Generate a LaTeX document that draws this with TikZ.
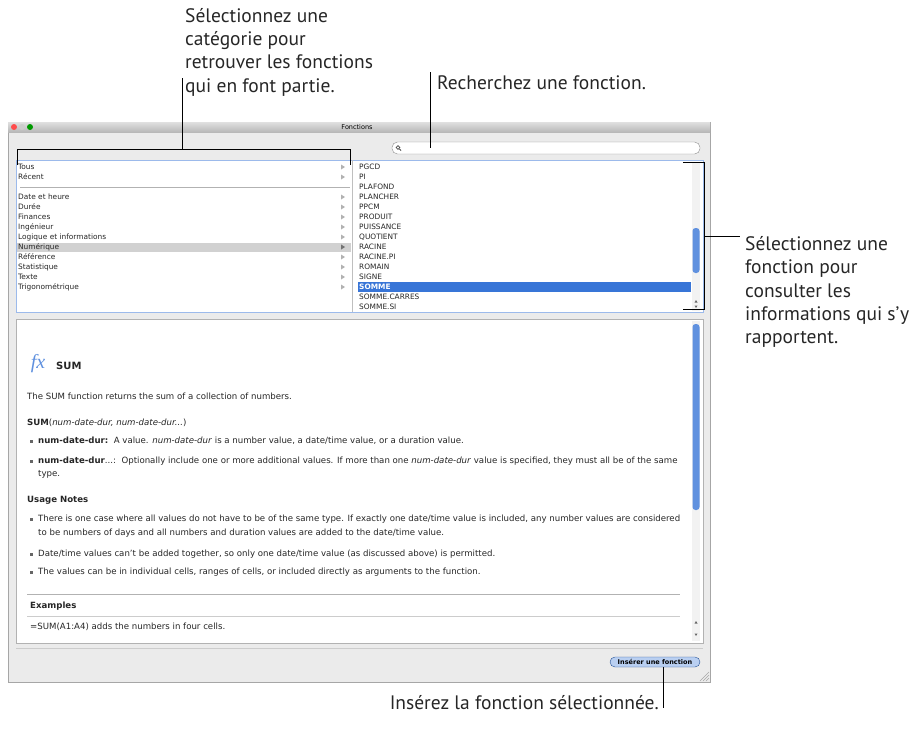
\documentclass[tikz,border=0pt]{standalone}
\usepackage{fontspec}
\setmainfont{DejaVu Sans}
\newfontfamily\callfont{PT Sans}
\newfontfamily\serifit{Liberation Serif}
\definecolor{macblue}{HTML}{3875D7}
\begin{document}
\begin{tikzpicture}[x=1pt,y=-1pt,
  ui/.style={font=\fontsize{7.4}{8}\selectfont,anchor=west,inner sep=0pt,text=black!85},
  uib/.style={ui,font=\fontsize{7.4}{8}\selectfont\bfseries},
  dt/.style={font=\fontsize{8.6}{9}\selectfont,anchor=west,inner sep=0pt,text=black!85},
  dtb/.style={dt,font=\fontsize{8.6}{9}\selectfont\bfseries},
  call/.style={font=\fontsize{19.5}{23.3}\selectfont\callfont,anchor=west,inner sep=0pt,align=left,text=black!85},
  lead/.style={draw=black,line width=0.9pt}]
\useasboundingbox (0,0) rectangle (917,737);
% window
\fill[black!8] (8,122) rectangle (710,682);
\draw[black!35] (8,122) rectangle (710,682);
\shade[top color=black!12,bottom color=black!28] (8,122) rectangle (710,132);
\node[font=\fontsize{6.5}{7}\selectfont,inner sep=0pt] (title) at (357,127) {Fonctions};
\foreach \x/\c in {14/red!70,22/black!20,30/green!60!black} \fill[\c] (\x,127) circle (3);
% search
\draw[black!45,fill=white,rounded corners=5.5pt] (392,142) rectangle (700,154);
\draw[black!70,line width=0.7pt] (398,147.5) circle (1.8);
\draw[black!70,line width=0.8pt] (399.3,148.8) -- (401,150.5);
\coordinate (search) at (430,148);
% lists
\fill[white] (16,160) rectangle (703,312);
\draw[macblue!50,line width=1pt] (16,160) rectangle (703,312);
\draw[black!25] (352,160) -- (352,312);
\fill[black!18] (17,243) rectangle (351,252);
\draw[black!30,line width=0.8pt] (20,187) -- (350,187);
\foreach \t [count=\i] in {Tous,Récent}
  \node[ui] at (18,157+10*\i) {\t};
\foreach \t [count=\i] in {Date et heure,Durée,Finances,Ingénieur,Logique et informations,Numérique,Référence,Statistique,Texte,Trigonométrique}
  \node[ui] at (18,187+10*\i) {\t};
\foreach \y in {167,177,197,207,217,227,237,247,257,267,277,287}
  \fill[black!30] (341,\y-2.5) -- (345,\y) -- (341,\y+2.5) -- cycle;
\fill[black!55] (341,244.5) -- (345,247) -- (341,249.5) -- cycle;
\fill[macblue] (358,282) rectangle (691,292);
\foreach \t [count=\i] in {PGCD,PI,PLAFOND,PLANCHER,PPCM,PRODUIT,PUISSANCE,QUOTIENT,RACINE,RACINE.PI,ROMAIN,SIGNE}
  \node[ui] at (359,157+10*\i) {\t};
\node[uib,text=white] at (359,287) {SOMME};
\node[ui] at (359,297) {SOMME.CARRES};
\node[ui] at (359,307) {SOMME.SI};
\fill[black!5] (692,162) rectangle (700,311);
\fill[macblue!80,rounded corners=3pt] (692.5,228) rectangle (699.5,273);
\fill[black!60] (696,300) -- (694.5,302.5) -- (697.5,302.5) -- cycle (696,308) -- (694.5,305.5) -- (697.5,305.5) -- cycle;
% detail box
\fill[white] (16,319) rectangle (703,643);
\draw[black!30] (16,319) rectangle (703,643);
\fill[black!5] (692,321) rectangle (700,641);
\fill[macblue!80,rounded corners=3pt] (692.5,324) rectangle (699.5,510);
\fill[black!60] (696,621) -- (694.5,623.5) -- (697.5,623.5) -- cycle (696,636) -- (694.5,633.5) -- (697.5,633.5) -- cycle;
\node[inner sep=0pt,text=macblue!80,font=\fontsize{20}{20}\selectfont\serifit\itshape] at (38,364) {fx};
\node[dtb,font=\fontsize{10}{10}\selectfont\bfseries] at (56,366) {SUM};
\node[dt] at (27,396) {The SUM function returns the sum of a collection of numbers.};
\node[dt] at (27,423) {\textbf{SUM}(\textit{num-date-dur, num-date-dur...})};
\node[dt] at (38,441) {\textbf{num-date-dur:}\ \ A value. \textit{num-date-dur} is a number value, a date/time value, or a duration value.};
\node[dt] at (38,461) {\textbf{num-date-dur}...:\ \ Optionally include one or more additional values. If more than one \textit{num-date-dur} value is specified, they must all be of the same};
\node[dt] at (38,474) {type.};
\node[dtb] at (27,500) {Usage Notes};
\node[dt] at (38,519) {There is one case where all values do not have to be of the same type. If exactly one date/time value is included, any number values are considered};
\node[dt] at (38,533) {to be numbers of days and all numbers and duration values are added to the date/time value.};
\node[dt] at (38,554) {Date/time values can’t be added together, so only one date/time value (as discussed above) is permitted.};
\node[dt] at (38,572) {The values can be in individual cells, ranges of cells, or included directly as arguments to the function.};
\foreach \y in {441,461,519,554,572} \fill[black!60] (29.5,\y-1.5) rectangle (32.5,\y+1.5);
\draw[black!30,line width=1pt] (27,594) -- (680,594);
\node[dtb] at (30,606) {Examples};
\draw[black!20] (27,616) -- (680,616);
\node[dt] at (30,627) {=SUM(A1:A4) adds the numbers in four cells.};
\draw[black!20] (16,648) -- (703,648);
% button
\node[draw=macblue!70!black,fill=macblue!35,rounded corners=5pt,minimum width=90pt,minimum height=10pt,inner sep=0pt,font=\fontsize{6.5}{7}\selectfont\bfseries] (btn) at (655,662) {Insérer une fonction};
\foreach \d in {3,6,9} \draw[black!35] (709-\d,681) -- (709,681-\d);
% callouts
\node[call] (t1) at (185,52) {Sélectionnez une\\catégorie pour\\retrouver les fonctions\\qui en font partie.};
\draw[lead] (182,78) -- (182,149);
\draw[lead] (17,165) -- (17,149) -- (350,149) -- (350,165);
\node[call] (t2) at (437,83) {Recherchez une fonction.};
\draw[lead] (430,72) -- (search);
\node[call] (t3) at (745,292) {Sélectionnez une\\fonction pour\\consulter les\\informations qui s’y\\rapportent.};
\draw[lead] (683,162) -- (704,162) -- (704,309) -- (683,309);
\draw[lead] (704,236) -- (740,236);
\node[call,anchor=east] (t4) at (659,703) {Insérez la fonction sélectionnée.};
\draw[lead] (btn.south -| 663,0) -- (663,708);
\end{tikzpicture}
\end{document}
